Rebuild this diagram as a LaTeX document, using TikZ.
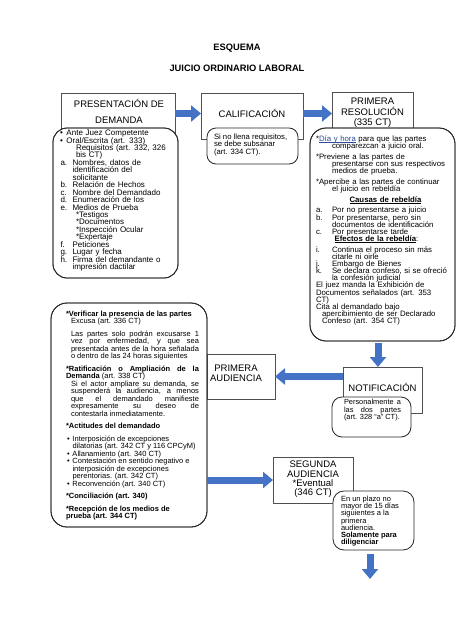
\documentclass[tikz,border=0pt]{standalone}
\usepackage{fontspec}
\setmainfont{Liberation Sans}
\usetikzlibrary{arrows.meta}
\definecolor{arrowblue}{HTML}{4472C4}
\definecolor{linkblue}{HTML}{2B4C9B}
\definecolor{rectgray}{HTML}{505050}
\definecolor{roundgray}{HTML}{262626}
\newcommand{\lbl}[2][12pt]{\makebox[#1][l]{#2}}
\newcommand{\ind}[1][12pt]{\hspace*{#1}}
\newcommand{\tightlines}{\lineskiplimit=-100pt\relax}
\newcommand{\smallfont}[2]{\fontsize{#1}{#2}\selectfont\tightlines}
\newcommand{\ulc}[1]{\setbox0\hbox{#1}\rlap{\rule[-1.1pt]{\wd0}{0.4pt}}\box0}
\begin{document}
\begin{tikzpicture}[x=1pt,y=-1pt,
  every node/.style={inner sep=0pt, outer sep=0pt},
  rectbox/.style={draw=rectgray, line width=0.6pt, fill=white},
  rbox/.style={draw=roundgray, line width=0.8pt, fill=white},
  routline/.style={draw=roundgray, line width=0.8pt},
  blockarrow/.style={draw=arrowblue, line width=7pt, -{Triangle[length=10pt,width=16pt]}},
  head/.style={font=\fontsize{9.5}{10.5}\selectfont, align=center},
  ttl/.style={font=\fontsize{9.3}{11}\selectfont\bfseries},
  txt/.style={anchor=north west, align=left, font=\smallfont{7.7}{7.4}},
  jtxt/.style={anchor=north west, align=justify, font=\smallfont{7.5}{7.5}}
]
\fill[white] (0,0) rectangle (474,632);
\useasboundingbox (0,0) rectangle (474,632);

% title
\node[ttl] (t1) at (237,48) {ESQUEMA};
\node[ttl] (t2) at (237,68) {JUICIO ORDINARIO LABORAL};

% presentacion
\node[rectbox, minimum width=114pt, minimum height=45pt] (pres) at (118,115.5) {};
\node[head, font=\fontsize{9.5}{16}\selectfont] (presH) at (119,111) {PRESENTACIÓN DE\\DEMANDA};
\node[rbox, rounded corners=14pt, minimum width=125pt, minimum height=150pt] (presR) at (115.5,203) {};
\node[txt, text width=115pt, font=\smallfont{8.0}{7.45}] (presT) at (60,130) {%
\lbl[6.5pt]{•}Ante Juez Competente\\
\lbl[6.5pt]{•}Oral/Escrita (art. 333)\\
\ind[16pt]Requisitos (art. 332, 326\\
\ind[16pt]bis CT)\\
\hspace*{0.5pt}\lbl[12pt]{a.}Nombres, datos de\\
\ind[12.5pt]identificación del\\
\ind[12.5pt]solicitante\\
\hspace*{0.5pt}\lbl[12pt]{b.}Relación de Hechos\\
\hspace*{0.5pt}\lbl[12pt]{c.}Nombre del Demandado\\
\hspace*{0.5pt}\lbl[12pt]{d.}Enumeración de los\\
\hspace*{0.5pt}\lbl[12pt]{e.}Medios de Prueba\\
\ind[16pt]*Testigos\\
\ind[16pt]*Documentos\\
\ind[16pt]*Inspección Ocular\\
\ind[16pt]*Expertaje\\
\hspace*{0.5pt}\lbl[12pt]{f.}Peticiones\\
\hspace*{0.5pt}\lbl[12pt]{g.}Lugar y fecha\\
\hspace*{0.5pt}\lbl[12pt]{h.}Firma del demandante o\\
\ind[12.5pt]impresión dactilar};

% calificacion
\node[rectbox, minimum width=102pt, minimum height=46pt] (calif) at (252,116) {};
\node[head] (califH) at (252,113) {CALIFICACIÓN};
\node[rbox, rounded corners=9pt, minimum width=91pt, minimum height=36pt] (califR) at (252.5,146) {};
\node[txt] (califT) at (214,134) {Si no llena requisitos,\\se debe subsanar\\(art. 334 CT).};

% primera resolucion
\node[rectbox, minimum width=81pt, minimum height=43pt] (res) at (372.5,113.5) {};
\node[head] (resH) at (372.5,113) {PRIMERA\\RESOLUCIÓN\\(335 CT)};
\node[rbox, rounded corners=16pt, minimum width=145pt, minimum height=213pt] (resR) at (382.5,234.5) {};
\node[txt, text width=136pt, font=\smallfont{7.8}{7.15}] (resT) at (316,136) {%
*\textcolor{linkblue}{\ulc{Día y hora}} para que las partes\\
\ind[16pt]comparezcan a juicio oral.\\[3.5pt]
*Previene a las partes de\\
\ind[16pt]presentarse con sus respectivos\\
\ind[16pt]medios de prueba.\\[3.5pt]
*Apercibe a las partes de continuar\\
\ind[16pt]el juicio en rebeldía\\[3.5pt]
\makebox[139pt][c]{\textbf{\ulc{Causas de rebeldía}}}\\[3.5pt]
\lbl[16pt]{a.}Por no presentarse a juicio\\
\lbl[16pt]{b.}Por presentarse, pero sin\\
\ind[16pt]documentos de identificación\\
\lbl[16pt]{c.}Por presentarse tarde\\
\makebox[121pt][c]{\textbf{\ulc{Efectos de la rebeldía}}:}\\[3.5pt]
\lbl[16pt]{i.}Continua el proceso sin más\\
\ind[16pt]citarle ni oirle\\
\lbl[16pt]{j.}Embargo de Bienes\\
\lbl[16pt]{k.}Se declara confeso, si se ofreció\\
\ind[16pt]la confesión judicial\\
*El juez manda la Exhibición de\\
Documentos señalados (art. 353\\
CT)\\
*Cita al demandado bajo\\
\ind[6pt]apercibimiento de ser Declarado\\
\ind[6pt]Confeso (art. 354 CT)};

% notificacion
\node[rectbox, minimum width=79pt, minimum height=46pt] (notif) at (382.5,390) {};
\node[head] (notifH) at (382.5,387) {NOTIFICACIÓN};
\node[rbox, rounded corners=10pt, minimum width=79pt, minimum height=40pt] (notifR) at (371.5,417) {};
\node[jtxt, text width=57pt, font=\smallfont{7.4}{7.4}] (notifT) at (344,399.5) {Personalmente a\linebreak las dos partes\linebreak (art. 328 “a” CT).};

% primera audiencia
\node[rectbox, minimum width=68pt, minimum height=45pt] (paud) at (241,376.5) {};
\node[head, font=\fontsize{9.5}{9.5}\selectfont] (paudH) at (236,373.5) {PRIMERA\\AUDIENCIA};

% big left box
\node[rbox, rounded corners=16pt, minimum width=156pt, minimum height=224pt] (audR) at (129,415) {};
\node[jtxt, text width=133pt] (audT) at (66,311) {%
\textbf{*Verificar la presencia de las partes}\\
\ind[5pt]Excusa (art. 336 CT)\par\vspace{5pt}
{\leftskip=5pt Las partes solo podrán excusarse 1\linebreak vez por enfermedad, y que sea\linebreak presentada antes de la hora señalada\linebreak o dentro de las 24 horas siguientes\par}\vspace{5pt}
\textbf{*Ratificación o Ampliación de la}\linebreak \textbf{Demanda} (art. 338 CT)\par
{\leftskip=5pt Si el actor ampliare su demanda, se\linebreak suspenderá la audiencia, a menos\linebreak que el demandado manifieste\linebreak expresamente su deseo de\linebreak contestarla inmediatamente.\par}\vspace{5pt}
\textbf{*Actitudes del demandado}\par\vspace{5pt}
\ind[1pt]\lbl[5.5pt]{•}Interposición de excepciones\\
\ind[6.5pt]dilatorias (art. 342 CT y 116 CPCyM)\\
\ind[1pt]\lbl[5.5pt]{•}Allanamiento (art. 340 CT)\\
\ind[1pt]\lbl[5.5pt]{•}Contestación en sentido negativo e\\
\ind[6.5pt]interposición de excepciones\\
\ind[6.5pt]perentorias. (art. 342 CT)\\
\ind[1pt]\lbl[5.5pt]{•}Reconvención (art. 340 CT)\par\vspace{5pt}
\textbf{*Conciliación (art. 340)}\par\vspace{5pt}
\textbf{*Recepción de los medios de}\\
\textbf{prueba (art. 344 CT)}};

% segunda audiencia
\node[rectbox, minimum width=80pt, minimum height=46pt] (segaud) at (313,480) {};
\node[head, font=\fontsize{9.5}{9.4}\selectfont] (segH) at (313,479.5) {SEGUNDA\\AUDIENCIA\\*Eventual\\(346 CT)};
\node[rbox, rounded corners=11pt, minimum width=81pt, minimum height=59pt] (plazoR) at (373.5,520.5) {};
\node[txt, font=\smallfont{7.5}{7.2}] (plazoT) at (341,496) {En un plazo no\\mayor de 15 días\\siguientes a la\\primera\\audiencia.\\\textbf{Solamente para}\\\textbf{diligenciar}};
\coordinate (dend) at (370,579);

% outlines of the rounded boxes, stroked again on top
\draw[routline, rounded corners=14pt] (presR.north west) rectangle (presR.south east);
\draw[routline, rounded corners=16pt] (resR.north west) rectangle (resR.south east);
\draw[routline, rounded corners=16pt] (audR.north west) rectangle (audR.south east);

% arrows
\draw[blockarrow] (pres.east |- res.west) -- (calif.west |- res.west);
\draw[blockarrow] (calif.east |- res.west) -- (res.west);
\draw[blockarrow, shorten <=2pt] ([xshift=-4.5pt]resR.south) -- ([xshift=-4.5pt]notif.north);
\draw[blockarrow] (notif.west |- paud.east) -- (paud.east);
\draw[blockarrow] (audR.east |- segaud.west) -- (segaud.west);
\draw[blockarrow, shorten <=4pt] (plazoR.south -| dend) -- (dend);
\end{tikzpicture}
\end{document}
